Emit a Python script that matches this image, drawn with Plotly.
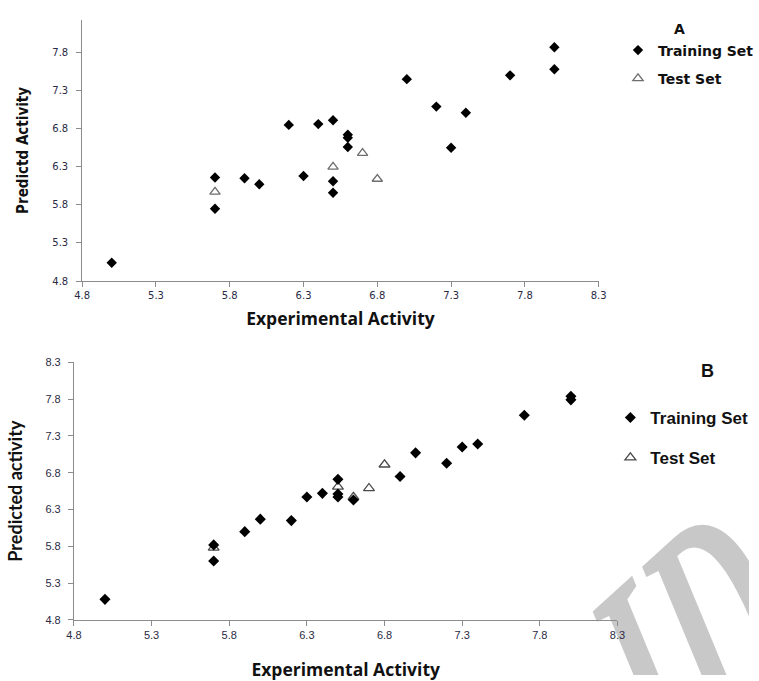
import base64
import plotly.graph_objects as go

# Panel A: experimental vs predicted activity
a_train_x = [5.0, 5.7, 5.7, 5.9, 6.0, 6.2, 6.3, 6.4, 6.5, 6.5, 6.5, 6.6, 6.6, 6.6, 7.0, 7.2, 7.3, 7.4, 7.7, 8.0, 8.0]
a_train_y = [5.04, 6.16, 5.75, 6.15, 6.07, 6.85, 6.18, 6.86, 6.91, 6.11, 5.96, 6.72, 6.68, 6.56, 7.45, 7.09, 6.55, 7.01, 7.50, 7.87, 7.58]
a_test_x = [5.7, 6.5, 6.7, 6.8]
a_test_y = [5.97, 6.30, 6.48, 6.14]

# Panel B
b_train_x = [5.0, 5.7, 5.7, 5.9, 6.0, 6.2, 6.3, 6.4, 6.5, 6.5, 6.5, 6.6, 6.9, 7.0, 7.2, 7.3, 7.4, 7.7, 8.0, 8.0]
b_train_y = [5.08, 5.60, 5.82, 6.00, 6.17, 6.15, 6.47, 6.52, 6.71, 6.51, 6.47, 6.43, 6.75, 7.07, 6.93, 7.15, 7.19, 7.58, 7.84, 7.79]
b_test_x = [5.7, 6.5, 6.6, 6.7, 6.8]
b_test_y = [5.78, 6.61, 6.47, 6.59, 6.91]

ticks = [4.8, 5.3, 5.8, 6.3, 6.8, 7.3, 7.8, 8.3]
tick_text = ["4.8", "5.3", "5.8", "6.3", "6.8", "7.3", "7.8", "8.3"]

W, H = 759, 681
fig = go.Figure()

# test sets first so the diamonds sit on top
fig.add_trace(go.Scatter(x=a_test_x, y=a_test_y, mode="markers", name="<b>Test Set</b>",
                         xaxis="x", yaxis="y", legend="legend", legendrank=2,
                         legendgroup="a2",
                         marker=dict(symbol="triangle-up-open", size=9, color="#6e6e6e",
                                     line=dict(width=1.3, color="#6e6e6e"))))
fig.add_trace(go.Scatter(x=a_train_x, y=a_train_y, mode="markers", name="<b>Training Set</b>",
                         xaxis="x", yaxis="y", legend="legend", legendrank=1,
                         legendgroup="a1",
                         marker=dict(symbol="diamond", size=8, color="#000000")))
fig.add_trace(go.Scatter(x=b_test_x, y=b_test_y, mode="markers", name="<b>Test Set</b>",
                         xaxis="x2", yaxis="y2", legend="legend2", legendrank=2,
                         legendgroup="b2",
                         marker=dict(symbol="triangle-up-open", size=9.5, color="#4a4a4a",
                                     line=dict(width=1.3, color="#4a4a4a"))))
fig.add_trace(go.Scatter(x=b_train_x, y=b_train_y, mode="markers", name="<b>Training Set</b>",
                         xaxis="x2", yaxis="y2", legend="legend2", legendrank=1,
                         legendgroup="b1",
                         marker=dict(symbol="diamond", size=8.5, color="#000000")))


def px_x(p):
    return p / W


def px_y(p):
    return 1 - p / H


axis_common = dict(showgrid=False, zeroline=False, showline=True, linecolor="#8c8c8c",
                   linewidth=1, ticks="outside", ticklen=5, tickcolor="#8c8c8c",
                   tickwidth=1, mirror=False)

title_font = dict(family="Open Sans", size=17.5, color="#111111")

fig.update_layout(
    width=W, height=H, margin=dict(l=0, r=0, t=0, b=0),
    paper_bgcolor="white", plot_bgcolor="rgba(0,0,0,0)",
    xaxis=dict(domain=[px_x(76), px_x(605)], range=[4.8, 8.3], anchor="y",
               tickvals=ticks, ticktext=tick_text,
               tickfont=dict(family="DejaVu Sans", size=10, color="#2a2a44"),
               title=dict(text="<b>Experimental Activity</b>", standoff=12, font=title_font),
               **axis_common),
    yaxis=dict(domain=[px_y(280), px_y(14)], range=[4.8, 8.23], anchor="x",
               tickvals=ticks[:-1], ticktext=tick_text[:-1],
               tickfont=dict(family="DejaVu Sans", size=10, color="#2a2a44"),
               ticklabelstandoff=6,
               title=dict(text="<b>Predictd Activity</b>", standoff=20,
                          font=dict(family="Liberation Sans Narrow, DejaVu Sans Condensed, Lato",
                                    size=15, color="#111111")),
               **axis_common),
    xaxis2=dict(domain=[px_x(67.5), px_x(624.3)], range=[4.8, 8.3], anchor="y2",
                tickvals=ticks, ticktext=tick_text,
                tickfont=dict(family="Liberation Sans", size=11, color="#2a2a44"),
                title=dict(text="<b>Experimental Activity</b>", standoff=25, font=title_font),
                **axis_common),
    yaxis2=dict(domain=[px_y(625), px_y(362.7)], range=[4.8, 8.3], anchor="x2",
                tickvals=ticks, ticktext=tick_text,
                tickfont=dict(family="Liberation Sans", size=11, color="#2a2a44"),
                ticklabelstandoff=5,
                title=dict(text="<b>Predicted activity</b>", standoff=18,
                           font=dict(family="Lato", size=18, color="#111111")),
                **axis_common),
    legend=dict(x=px_x(625), y=px_y(29), xanchor="left", yanchor="top",
                bgcolor="rgba(0,0,0,0)", tracegroupgap=7, itemwidth=30,
                font=dict(family="DejaVu Sans", size=14, color="#111111")),
    legend2=dict(x=px_x(617), y=px_y(401), xanchor="left", yanchor="top",
                 bgcolor="rgba(0,0,0,0)", tracegroupgap=15, itemwidth=30,
                 font=dict(family="Liberation Sans", size=17, color="#111111")),
    showlegend=True,
)

fig.add_annotation(text="<b>A</b>", x=px_x(688), y=px_y(23), xref="paper", yref="paper",
                   showarrow=False, xanchor="center", yanchor="middle",
                   font=dict(family="DejaVu Sans", size=14, color="#111111"))
fig.add_annotation(text="<b>B</b>", x=px_x(716), y=px_y(372), xref="paper", yref="paper",
                   showarrow=False, xanchor="center", yanchor="middle",
                   font=dict(family="Liberation Sans", size=18, color="#111111"))

# light grey publisher stamp behind the lower panel (narrow slanted serif letters)
stamp_svg = (
    f'<svg xmlns="http://www.w3.org/2000/svg" width="{W}" height="{H}" viewBox="0 0 {W} {H}">'
    '<g transform="translate(824 678) rotate(-42) skewX(-14) scale(0.58 1)">'
    '<text x="0" y="0" text-anchor="end" font-family="Liberation Serif" font-style="italic" '
    'font-weight="bold" font-size="300" fill="#c8c8c8">ID</text></g>'
    '</svg>'
)
fig.add_layout_image(
    source="data:image/svg+xml;base64," + base64.b64encode(stamp_svg.encode()).decode(),
    xref="paper", yref="paper", x=0, y=1, sizex=1, sizey=1,
    xanchor="left", yanchor="top", sizing="stretch", layer="below",
)

fig.write_html("out.html")
